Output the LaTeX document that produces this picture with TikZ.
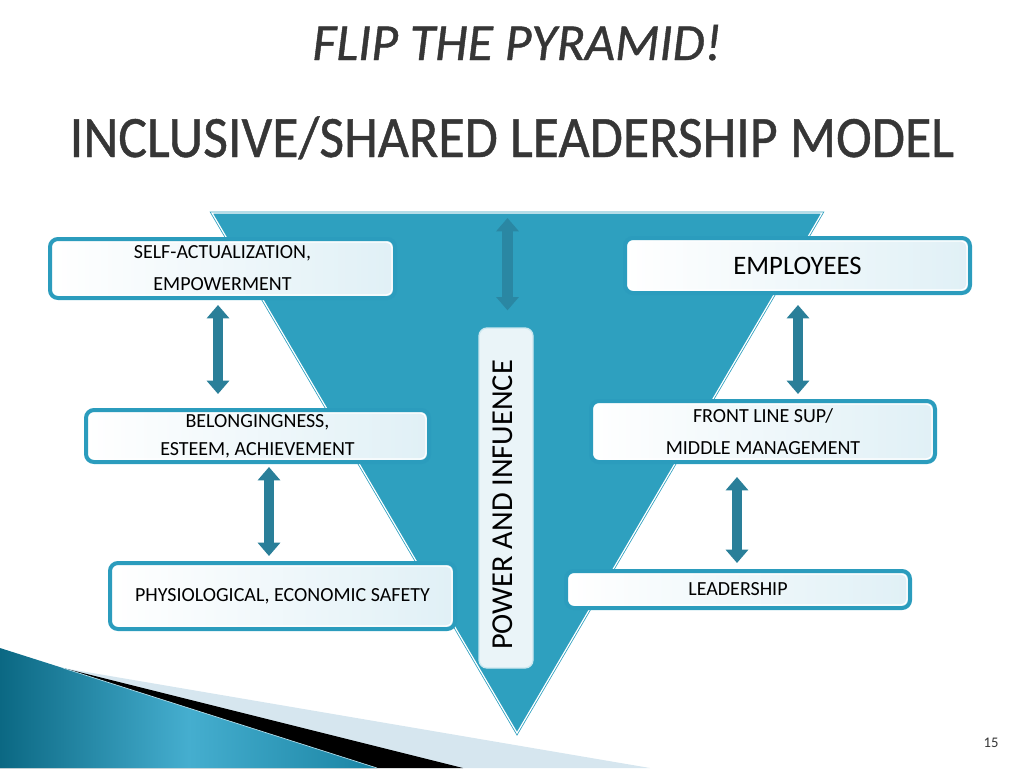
\documentclass[tikz,border=0pt]{standalone}
\usepackage{fontspec}
\setmainfont{Carlito}
\newfontfamily\headfont[FakeBold=0.8]{Carlito}
\usetikzlibrary{arrows.meta,calc}
\definecolor{tri}{HTML}{2EA0BF}
\definecolor{bord}{HTML}{2B9CBD}
\definecolor{arr}{HTML}{2A7F99}
\definecolor{arrc}{HTML}{2A87A3}
\definecolor{boxr}{HTML}{E0F0F6}
\definecolor{pcfill}{HTML}{EAF4F8}
\definecolor{band}{HTML}{D6E6EF}
\definecolor{swd}{HTML}{0B6883}
\definecolor{swl}{HTML}{45AECF}
\definecolor{swr}{HTML}{1A84A3}
\definecolor{titlec}{HTML}{363636}
\tikzset{
  levelbox/.style={draw=bord, line width=3pt, rounded corners=6pt,
    left color=white, right color=boxr, inner sep=0pt, align=center,
    font=\fontsize{15}{24}\selectfont, text=black,
    path picture={\draw[white, line width=0.9pt, rounded corners=4pt]
      ([shift={(2.3pt,2.3pt)}]path picture bounding box.south west) rectangle
      ([shift={(-2.3pt,-2.3pt)}]path picture bounding box.north east);}},
  fatarrow/.style={draw=arr, line width=8pt,
    {Triangle[width=16.5pt,length=10pt]}-{Triangle[width=16.5pt,length=10pt]}},
  pcbox/.style={draw=white!75!tri, line width=1pt, fill=pcfill, rounded corners=6pt,
    minimum width=40.5pt, minimum height=255pt, inner sep=0pt},
  titletext/.style={anchor=base, text=titlec, inner sep=0pt},
}
\begin{document}
\begin{tikzpicture}[x=0.75pt,y=-0.75pt]
\useasboundingbox (0,0) rectangle (1024,768);
% bottom-left swoosh
\fill[band] (63,668) -- (650,768) -- (0,768) -- cycle;
\fill[black] (63,668) -- (463,768) -- (0,768) -- cycle;
\shade[left color=swd, right color=swr, middle color=swl] (0,648) -- (377,768) -- (0,768) -- cycle;
\draw[white!60!swl, line width=0.5pt] (63,668) -- (377,768);
% titles
\node[titletext, font=\headfont\fontsize{39}{44}\selectfont\itshape] (t1) at (517,60) {FLIP THE PYRAMID!};
\node[titletext, xscale=0.92, font=\headfont\fontsize{44}{50}\selectfont] (t2) at (512,157) {INCLUSIVE/SHARED LEADERSHIP MODEL};
% inverted pyramid
\filldraw[fill=tri, draw=tri, double=white, double distance=0.9pt, line width=0.6pt]
  (212,213) -- (822,213) -- (517,733) -- cycle;
\coordinate (tritop) at (507.5,213);
% centre box
\node[pcbox] (pc) at (506,498) {};
\node[rotate=90, font=\fontsize{22.8}{28}\selectfont, text=black] (pct) at (503,505) {POWER AND INFUENCE};
% level boxes
\node[levelbox, minimum width=258.75pt, minimum height=44.25pt] (b1) at (222.5,268.5) {SELF-ACTUALIZATION,\\EMPOWERMENT};
\node[levelbox, minimum width=257.25pt, minimum height=39pt, font=\fontsize{15}{21}\selectfont] (b2) at (257.5,436) {BELONGINGNESS,\\ESTEEM, ACHIEVEMENT};
\node[levelbox, minimum width=258.75pt, minimum height=49.5pt] (b3) at (282.5,596) {PHYSIOLOGICAL, ECONOMIC SAFETY};
\node[levelbox, minimum width=258.75pt, minimum height=41.25pt, font=\fontsize{20}{24}\selectfont] (b4) at (797.5,265.5) {EMPLOYEES};
\node[levelbox, minimum width=258pt, minimum height=45.75pt] (b5) at (763,431.5) {FRONT LINE SUP/\\MIDDLE MANAGEMENT};
\node[levelbox, minimum width=258pt, minimum height=27.75pt] (b6) at (738,589.5) {LEADERSHIP};
% arrows
\coordinate (x1) at (218,0);
\coordinate (x2) at (269,0);
\coordinate (x3) at (798,0);
\coordinate (x4) at (737,0);
\draw[fatarrow] ($(b1.south -| x1)+(0,5)$) -- ($(b2.north -| x1)+(0,-14)$);
\draw[fatarrow] ($(b2.south -| x2)+(0,3)$) -- ($(b3.north -| x2)+(0,-5)$);
\draw[fatarrow] ($(b4.south -| x3)+(0,10)$) -- ($(b5.north -| x3)+(0,-5)$);
\draw[fatarrow] ($(b5.south -| x4)+(0,13)$) -- ($(b6.north -| x4)+(0,-6)$);
\draw[fatarrow, draw=arrc] ($(tritop)+(0,5)$) -- ($(pc.north -| tritop)+(0,-17)$);
% page number
\node[font=\fontsize{11}{13}\selectfont, text=titlec] (pg) at (991,743) {15};
\end{tikzpicture}
\end{document}
